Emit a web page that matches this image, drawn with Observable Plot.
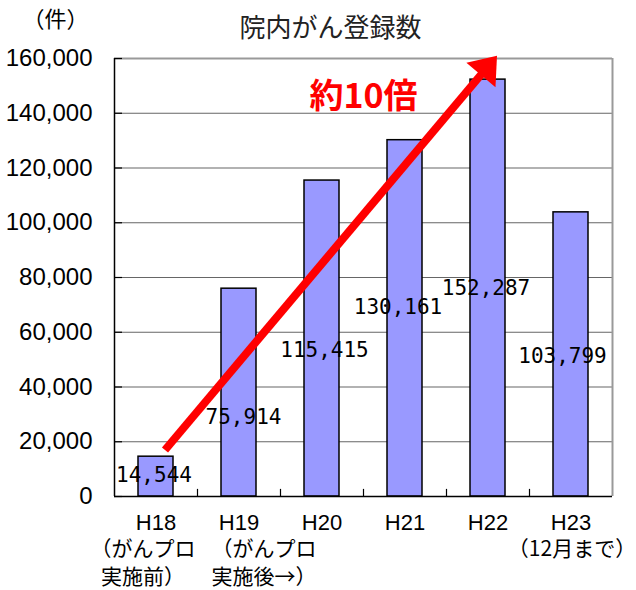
<!DOCTYPE html>
<html>
<head>
<meta charset="utf-8">
<script src="https://cdn.jsdelivr.net/npm/d3@7"></script>
<script src="https://cdn.jsdelivr.net/npm/@observablehq/plot@0.6"></script>
<style>
  body { margin: 0; background: #fff; }
</style>
</head>
<body>
<div id="chart"></div>
<script>
const categories = ["H18", "H19", "H20", "H21", "H22", "H23"];
const counts = [14544, 75914, 115415, 130161, 152287, 103799];
const subLine1 = ["（がんプロ", "（がんプロ", "", "", "", "（12月まで）"];
const subLine2 = ["実施前）", "実施後→）", "", "", "", ""];
const yTicks = [0, 20000, 40000, 60000, 80000, 100000, 120000, 140000, 160000];
const titleText = "院内がん登録数";
const unitText = "（件）";
const noteText = "約10倍";
// arrow endpoints (category, value)
const arrowFrom = {cat: "H18", value: 17000};
const arrowTo = {cat: "H22", value: 161000};

const data = categories.map((c, i) => ({cat: c, count: counts[i]}));

// value-label placement inside the chart (value units and pixel nudges)
const labelY = [7900, 29100, 53300, 69000, 76000, 51400];
const labelDx = [-2, 4.5, 2.5, -7, -2, -8.5];

const jp = "'Noto Sans CJK JP', sans-serif";
const latin = "'Liberation Sans', Arial, sans-serif";
const half = 41.5; // half of the band step in px

// custom filled arrow head, tip at origin pointing up
const head = {
  draw(ctx) {
    ctx.moveTo(0, 0);
    ctx.lineTo(-19, 25);
    ctx.lineTo(19, 25);
    ctx.closePath();
  }
};

const marks = [
  // gridlines
  Plot.ruleY(yTicks.slice(1, -1), {stroke: "#666", strokeWidth: 1.2}),
  // top & right border
  Plot.ruleY([160000], {stroke: "#999", strokeWidth: 2}),
  Plot.ruleX(["H23"], {dx: half, y1: 0, y2: 160000, stroke: "#999", strokeWidth: 2}),
  // inward ticks on y
  Plot.ruleY(yTicks, {stroke: "black", strokeWidth: 1.2, insetRight: 490}),
  // bars
  Plot.barY(data, {x: "cat", y: "count", fill: "#9999ff", stroke: "black", strokeWidth: 1.5}),
  // bottom ticks between categories
  Plot.ruleX(categories.slice(1), {dx: -half, y1: 0, y2: 2600, stroke: "black", strokeWidth: 1.2}),
  // axes lines
  Plot.ruleY([0], {stroke: "black", strokeWidth: 1.5}),
  Plot.ruleX(["H18"], {dx: -half, y1: 0, y2: 160000, stroke: "black", strokeWidth: 1.5}),
  // y axis labels
  Plot.axisY(yTicks, {tickSize: 0, tickPadding: 22, tickFormat: d3.format(","), fontSize: 24, fontFamily: latin, fill: "black", label: null}),
  // value labels
  ...data.map((d, i) => Plot.text([d], {
    x: "cat", y: () => labelY[i], text: dd => d3.format(",")(dd.count),
    dx: labelDx[i], fontSize: 21, fontFamily: "'DejaVu Sans Mono', monospace", fill: "black"
  })),
  // red arrow
  Plot.arrow([{}], {
    x1: () => arrowFrom.cat, y1: () => arrowFrom.value,
    x2: () => arrowTo.cat, y2: () => arrowTo.value,
    dx: 9, stroke: "red", strokeWidth: 8, headLength: 0, insetEnd: 18, strokeLinecap: "butt"
  }),
  Plot.dot([{}], {
    x: () => arrowTo.cat, y: () => arrowTo.value, dx: 9,
    symbol: head, r: 10, fill: "red", stroke: "none", rotate: 40
  }),
  // note text
  Plot.text([noteText], {frameAnchor: "top-left", textAnchor: "middle", lineAnchor: "middle", dx: 249, dy: 39, fontSize: 34, fontWeight: "bold", fontFamily: jp, fill: "red", letterSpacing: "1px"}),
  // title and unit
  Plot.text([titleText], {frameAnchor: "top-left", textAnchor: "middle", lineAnchor: "middle", dx: 216, dy: -30, fontSize: 26, fontFamily: jp, fill: "#222"}),
  Plot.text([unitText], {frameAnchor: "top-left", textAnchor: "middle", lineAnchor: "middle", dx: -59, dy: -39, fontSize: 22, fontFamily: jp, fill: "black"}),
  // x category labels
  Plot.text(categories, {x: d => d, frameAnchor: "bottom", lineAnchor: "middle", dy: 26, fontSize: 22, fontFamily: latin, fill: "black"}),
];

// sub labels under categories
const subDx = [-13, 25, 0, 0, 0, 1];
categories.forEach((c, i) => {
  if (subLine1[i]) marks.push(Plot.text([c], {x: d => d, text: () => subLine1[i], frameAnchor: "bottom", lineAnchor: "middle", dy: 53, dx: subDx[i], fontSize: 21, fontFamily: jp, fill: "black"}));
  if (subLine2[i]) marks.push(Plot.text([c], {x: d => d, text: () => subLine2[i], frameAnchor: "bottom", lineAnchor: "middle", dy: 81, dx: subDx[i], fontSize: 21, fontFamily: jp, fill: "black"}));
});

const chart = Plot.plot({
  width: 636,
  height: 590,
  marginTop: 58,
  marginBottom: 94,
  marginLeft: 114,
  marginRight: 24,
  x: {domain: categories, paddingInner: 0.58, paddingOuter: 0.29, axis: null},
  y: {domain: [0, 160000], axis: null},
  style: {background: "white", overflow: "visible"},
  marks
});
document.getElementById("chart").appendChild(chart);
</script>
</body>
</html>
